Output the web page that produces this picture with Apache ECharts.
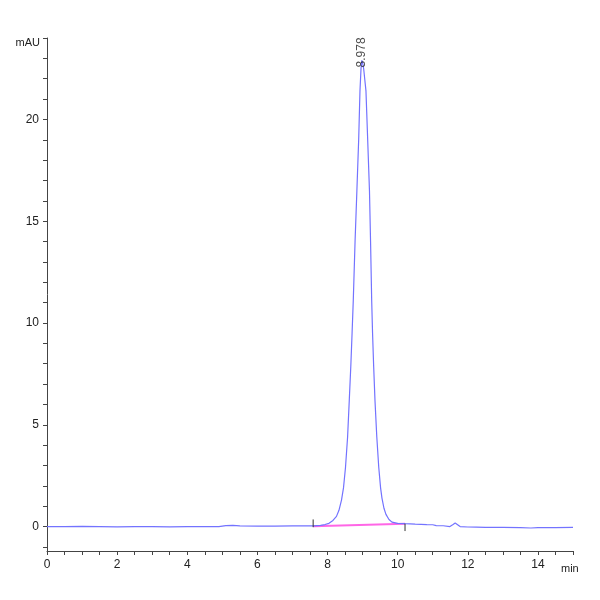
<!DOCTYPE html>
<html>
<head>
<meta charset="utf-8">
<script src="https://cdn.jsdelivr.net/npm/echarts@6/dist/echarts.min.js"></script>
<style>
html,body{margin:0;padding:0;background:#fff;}
#c{width:600px;height:600px;}
</style>
</head>
<body>
<div id="c"></div>
<script>
// Chromatogram (time in min, signal in mAU)
const times = [0,0.5,1,1.5,2,2.5,3,3.5,4,4.5,4.9,5.1,5.3,5.5,6,6.5,7,7.4,7.59,7.8,7.927,8.041,8.155,8.255,8.326,8.398,8.455,8.512,8.572,8.62,8.663,8.7,8.734,8.785,8.837,8.888,8.925,8.955,8.978,9.0,9.03,9.06,9.096,9.145,9.196,9.227,9.259,9.284,9.316,9.353,9.405,9.461,9.513,9.552,9.609,9.666,9.752,9.838,10.0,10.21,10.5,10.83,11.0,11.1,11.3,11.49,11.58,11.64,11.7,11.78,12.0,12.25,12.5,13.0,13.5,13.8,14.0,14.5,15.0];
const signal = [0.0,0.0,0.01,0.0,-0.01,0.0,0.0,-0.01,0.0,0.0,0.0,0.05,0.06,0.03,0.02,0.02,0.03,0.04,0.03,0.06,0.1,0.16,0.3,0.5,0.8,1.3,1.9,2.9,4.4,6.2,7.85,9.5,11.1,14.0,16.5,19.0,21.4,22.5,22.9,22.8,22.5,22.0,21.4,19.0,16.5,14.0,11.1,9.5,7.85,6.2,4.4,2.9,1.9,1.4,0.9,0.6,0.35,0.22,0.16,0.14,0.12,0.1,0.09,0.05,0.04,0.0,0.1,0.17,0.1,0.0,-0.02,-0.03,-0.04,-0.04,-0.05,-0.07,-0.05,-0.05,-0.04];

// Peak annotation
const peakTimes = [8.978];
const peakHeights = [22.9];
const peakLabels = ['8.978'];

// Integration baseline (start / end events)
const integStart = [7.59, 0.02];
const integEnd = [10.21, 0.14];

// Axis ticks / labels
const xTickLabels = [0,2,4,6,8,10,12,14];
const xTicks = [0,0.5,1,1.5,2,2.5,3,3.5,4,4.5,5,5.5,6,6.5,7,7.5,8,8.5,9,9.5,10,10.5,11,11.5,12,12.5,13,13.5,14,14.5,15];
const yTickLabels = [0,5,10,15,20];
const yTicks = [-1,0,1,2,3,4,5,6,7,8,9,10,11,12,13,14,15,16,17,18,19,20,21,22,23,24];

const trace = times.map((t, i) => [t, signal[i]]);
const font = "'Liberation Sans Narrow','Arial Narrow','Liberation Sans',sans-serif";

const chart = echarts.init(document.getElementById('c'), null, {renderer: 'canvas'});
chart.setOption({
  animation: false,
  backgroundColor: '#fff',
  grid: {left: 47, right: 27, top: 38, bottom: 49, containLabel: false},
  xAxis: {
    type: 'value', min: 0, max: 15,
    name: 'min', nameLocation: 'end', nameGap: -12,
    nameTextStyle: {fontFamily: font, fontSize: 11, color: '#222', verticalAlign: 'top', padding: [12, 0, 0, 0]},
    axisLine: {show: true, onZero: false, lineStyle: {color: '#444', width: 1}},
    axisTick: {show: true, customValues: xTicks, length: 4, inside: false, lineStyle: {color: '#444'}},
    axisLabel: {customValues: xTickLabels, fontFamily: font, fontSize: 12, color: '#222', margin: 8},
    splitLine: {show: false}
  },
  yAxis: {
    type: 'value', min: -1.2, max: 24,
    name: 'mAU', nameLocation: 'end', nameGap: -5,
    nameTextStyle: {fontFamily: font, fontSize: 11, color: '#222', align: 'right', verticalAlign: 'middle', padding: [0, 7, 0, 0]},
    axisLine: {show: true, onZero: false, lineStyle: {color: '#444', width: 1}},
    axisTick: {show: true, customValues: yTicks, length: 4, lineStyle: {color: '#444'}},
    axisLabel: {customValues: yTickLabels, fontFamily: font, fontSize: 12, color: '#222', margin: 8},
    splitLine: {show: false}
  },
  series: [
    {
      type: 'line', name: 'baseline', data: [integStart, integEnd],
      symbol: 'none', lineStyle: {color: '#ff66e6', width: 2}, z: 2
    },
    {
      type: 'line', name: 'signal', data: trace, symbol: 'none', smooth: false,
      lineStyle: {color: '#7373ff', width: 1.2}, z: 3
    },
    {
      type: 'line', name: 'startTick', data: [[integStart[0], integStart[1] - 0.05], [integStart[0], integStart[1] + 0.33]],
      symbol: 'none', lineStyle: {color: '#333', width: 1}, z: 4
    },
    {
      type: 'line', name: 'endTick', data: [[integEnd[0], integEnd[1]], [integEnd[0], integEnd[1] - 0.36]],
      symbol: 'none', lineStyle: {color: '#333', width: 1}, z: 4
    },
    {
      type: 'scatter', name: 'peak', symbolSize: 0,
      data: peakTimes.map((t, i) => ({value: [t, peakHeights[i]], label: {formatter: peakLabels[i]}})),
      label: {show: true, position: 'top', distance: -7, rotate: 90, align: 'left', verticalAlign: 'middle',
              fontFamily: "'Liberation Sans',Arial,sans-serif", fontSize: 12, color: '#222'},
      z: 5
    }
  ]
});
</script>
</body>
</html>
